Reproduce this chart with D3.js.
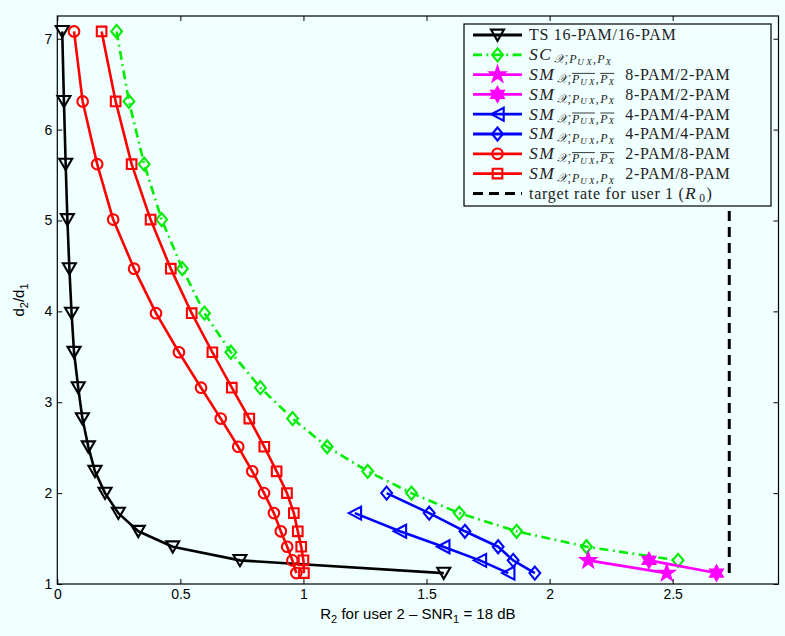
<!DOCTYPE html>
<html><head><meta charset="utf-8">
<script src="https://cdn.jsdelivr.net/npm/d3@7"></script>
<style>html,body{margin:0;padding:0;background:#f0ffff;} svg{display:block}</style>
</head><body>
<svg id="c" width="785" height="636"></svg>
<script>
// ---------- data ----------
const tsD   = [7.08, 6.31, 5.62, 5.01, 4.47, 3.98, 3.55, 3.16, 2.82, 2.51, 2.24, 2.00, 1.78, 1.58, 1.41, 1.26, 1.12];
const tsR2  = [0.020, 0.027, 0.034, 0.041, 0.049, 0.058, 0.068, 0.085, 0.102, 0.126, 0.153, 0.194, 0.248, 0.329, 0.469, 0.742, 1.570];

const scD   = [7.08, 6.31, 5.62, 5.01, 4.47, 3.98, 3.55, 3.16, 2.82, 2.51, 2.24, 2.00, 1.78, 1.58, 1.41, 1.26];
const scR2  = [0.241, 0.291, 0.353, 0.424, 0.508, 0.598, 0.705, 0.825, 0.956, 1.096, 1.261, 1.439, 1.633, 1.866, 2.150, 2.522];

const sm82oD  = [1.26, 1.12];
const sm82oR2 = [2.157, 2.476];
const sm82pD  = [1.26, 1.12];
const sm82pR2 = [2.404, 2.678];

const sm44oD  = [1.78, 1.58, 1.41, 1.26, 1.12];
const sm44oR2 = [1.209, 1.392, 1.568, 1.717, 1.832];
const sm44pD  = [2.00, 1.78, 1.58, 1.41, 1.26, 1.12];
const sm44pR2 = [1.338, 1.511, 1.656, 1.791, 1.852, 1.940];

const sm28oD  = [7.08, 6.31, 5.62, 5.01, 4.47, 3.98, 3.55, 3.16, 2.82, 2.51, 2.24, 2.00, 1.78, 1.58, 1.41, 1.26, 1.12];
const sm28oR2 = [0.068, 0.103, 0.162, 0.227, 0.312, 0.401, 0.494, 0.584, 0.664, 0.735, 0.792, 0.840, 0.880, 0.908, 0.934, 0.955, 0.971];
const sm28pD  = [7.08, 6.31, 5.62, 5.01, 4.47, 3.98, 3.55, 3.16, 2.82, 2.51, 2.24, 2.00, 1.78, 1.58, 1.41, 1.26, 1.12];
const sm28pR2 = [0.180, 0.237, 0.302, 0.379, 0.461, 0.546, 0.630, 0.709, 0.780, 0.841, 0.891, 0.933, 0.961, 0.977, 0.991, 1.000, 1.002];

const targetR0 = [2.73, 2.73];
const targetD  = [1.12, 7.08];

const xTicks = [0, 0.5, 1, 1.5, 2, 2.5];
const xTickLabels = ["0", "0.5", "1", "1.5", "2", "2.5"];
const yTicks = [1, 2, 3, 4, 5, 6, 7];
const yTickLabels = ["1", "2", "3", "4", "5", "6", "7"];

// ---------- setup ----------
const svg = d3.select("#c");
const L = 57.3, R = 778.5, T = 16, B = 584;
const x = d3.scaleLinear().domain([0, 2.93]).range([L, R]);
const y = d3.scaleLinear().domain([1, 7.25]).range([B, T]);

svg.append("rect").attr("width", 785).attr("height", 636).attr("fill", "#f0ffff");

// marker shapes
const shapes = {
  triDown: {draw(c){ c.moveTo(-6.5,-5.4); c.lineTo(6.5,-5.4); c.lineTo(0,5.8); c.closePath(); }},
  triLeft: {draw(c){ c.moveTo(-6.2,0); c.lineTo(6.2,-6.5); c.lineTo(6.2,6.5); c.closePath(); }},
  diamond: {draw(c){ c.moveTo(0,-6.5); c.lineTo(5.4,0); c.lineTo(0,6.5); c.lineTo(-5.4,0); c.closePath(); }},
  square:  {draw(c){ c.rect(-4.8,-4.8,9.6,9.6); }},
  circle:  {draw(c){ c.moveTo(5.3,0); c.arc(0,0,5.3,0,2*Math.PI); }},
  pentagram: {draw(c){
    const ro = 7.8, ri = ro*0.40;
    for (let i = 0; i < 10; i++) {
      const r = i % 2 ? ri : ro, a = -Math.PI/2 + i*Math.PI/5;
      i ? c.lineTo(r*Math.cos(a), r*Math.sin(a)) : c.moveTo(r*Math.cos(a), r*Math.sin(a));
    }
    c.closePath();
  }},
  hexagram: {draw(c){
    const ro = 7.2, ri = ro*0.577;
    for (let i = 0; i < 12; i++) {
      const r = i % 2 ? ri : ro, a = -Math.PI/2 + i*Math.PI/6;
      i ? c.lineTo(r*Math.cos(a), r*Math.sin(a)) : c.moveTo(r*Math.cos(a), r*Math.sin(a));
    }
    c.closePath();
  }}
};

const green = "#00ec00";
const series = [
  {xs: tsR2,   ys: tsD,   color: "#000000", marker: "triDown",  dash: null},
  {xs: scR2,   ys: scD,   color: green,     marker: "diamond",  dash: "9,4.5,1.8,4.5"},
  {xs: sm82oR2, ys: sm82oD, color: "#ff00ff", marker: "pentagram", dash: null, fill: true},
  {xs: sm82pR2, ys: sm82pD, color: "#ff00ff", marker: "hexagram",  dash: null, fill: true},
  {xs: sm44oR2, ys: sm44oD, color: "#0000ff", marker: "triLeft",   dash: null},
  {xs: sm44pR2, ys: sm44pD, color: "#0000ff", marker: "diamond",   dash: null},
  {xs: sm28oR2, ys: sm28oD, color: "#ff0000", marker: "circle",    dash: null},
  {xs: sm28pR2, ys: sm28pD, color: "#ff0000", marker: "square",    dash: null},
  {xs: targetR0, ys: targetD, color: "#000000", marker: null, dash: "10,6", w: 3}
];

const line = d3.line().x(d => x(d[0])).y(d => y(d[1]));
const plot = svg.append("g");
series.forEach(s => {
  const pts = s.xs.map((v, i) => [v, s.ys[i]]);
  plot.append("path").attr("d", line(pts)).attr("fill", "none")
    .attr("stroke", s.color).attr("stroke-width", s.w || 2.6)
    .attr("stroke-dasharray", s.dash).attr("stroke-linejoin", "round");
  if (s.marker) {
    const sym = d3.symbol().type(shapes[s.marker]);
    plot.selectAll(null).data(pts).enter().append("path")
      .attr("d", sym).attr("transform", d => `translate(${x(d[0])},${y(d[1])})`)
      .attr("fill", s.fill ? s.color : "none").attr("stroke", s.color).attr("stroke-width", 2.1)
      .attr("stroke-linejoin", "miter");
  }
});

// ---------- axes ----------
const axFont = "'Liberation Sans', Arial, sans-serif";
function styleAxis(g) {
  g.select(".domain").remove();
  g.selectAll("line").attr("stroke", "#000").attr("stroke-width", 1);
  g.selectAll("text").style("font-family", axFont).style("font-size", "14px").attr("fill", "#000");
}
svg.append("g").attr("transform", `translate(0,${B})`)
  .call(d3.axisBottom(x).tickValues(xTicks).tickFormat((d, i) => xTickLabels[i]).tickSize(-5).tickPadding(5)).call(styleAxis);
svg.append("g").attr("transform", `translate(0,${T})`)
  .call(d3.axisTop(x).tickValues(xTicks).tickFormat("").tickSize(-5)).call(styleAxis);
svg.append("g").attr("transform", `translate(${L},0)`)
  .call(d3.axisLeft(y).tickValues(yTicks).tickFormat((d, i) => yTickLabels[i]).tickSize(-5).tickPadding(5)).call(styleAxis);
svg.append("g").attr("transform", `translate(${R},0)`)
  .call(d3.axisRight(y).tickValues(yTicks).tickFormat("").tickSize(-5)).call(styleAxis);
svg.append("rect").attr("x", L).attr("y", T).attr("width", R - L).attr("height", B - T)
  .attr("fill", "none").attr("stroke", "#000").attr("stroke-width", 1.2);

// axis labels
const xl = svg.append("text").attr("x", (L + R) / 2).attr("y", 619).attr("text-anchor", "middle")
  .style("font-family", axFont).style("font-size", "15px");
xl.append("tspan").text("R");
xl.append("tspan").attr("dy", 4).style("font-size", "11px").text("2");
xl.append("tspan").attr("dy", -4).text(" for user 2 \u2013 SNR");
xl.append("tspan").attr("dy", 4).style("font-size", "11px").text("1");
xl.append("tspan").attr("dy", -4).text(" = 18 dB");

const yl = svg.append("text").attr("transform", `translate(24,${(T + B) / 2}) rotate(-90)`)
  .attr("text-anchor", "middle").style("font-family", axFont).style("font-size", "15px");
yl.append("tspan").text("d");
yl.append("tspan").attr("dy", 4).style("font-size", "11px").text("2");
yl.append("tspan").attr("dy", -4).text("/d");
yl.append("tspan").attr("dy", 4).style("font-size", "11px").text("1");

// ---------- legend ----------
const lx0 = 464, ly0 = 24, lx1 = 771, ly1 = 206;
const lg = svg.append("g");
lg.append("rect").attr("x", lx0).attr("y", ly0).attr("width", lx1 - lx0).attr("height", ly1 - ly0)
  .attr("fill", "#f0ffff").attr("stroke", "#000").attr("stroke-width", 1.2);

const serif = "'Liberation Serif', 'Times New Roman', serif";
const st = {
  rm:  {fs: 16, dy: 0,   it: false, ls: 0.7},
  it:  {fs: 17.5, dy: 0, it: true,  ls: 1.5},
  sub: {fs: 12, dy: 3.0, it: true,  ls: 0.3},
  subrm: {fs: 11.5, dy: 3.0, it: false, ls: 0},
  ss:  {fs: 9,  dy: 4.6, it: true,  ls: 0.3}
};
function smLabel(over, tail) {
  return [
    {t: "SM", s: "it", g: 1.5}, {t: "\u{1D4B3}", s: "sub", g: 0.5}, {t: ",", s: "subrm", g: 1.5},
    {t: "P", s: "sub", o: over ? 1 : null, g: 0.5}, {t: "U\u2009X", s: "ss", o: over ? 1 : null, g: 1}, {t: ",", s: "subrm", g: 1.5},
    {t: "P", s: "sub", o: over ? 2 : null, g: 0.5}, {t: "X", s: "ss", o: over ? 2 : null, g: 11},
    {t: tail, s: "rm"}
  ];
}
const legendRows = [
  [{t: "TS 16-PAM/16-PAM", s: "rm"}],
  [{t: "SC", s: "it", g: 1.5}, {t: "\u{1D4B3}", s: "sub", g: 0.5}, {t: ",", s: "subrm", g: 1.5}, {t: "P", s: "sub", g: 0.5}, {t: "U\u2009X", s: "ss", g: 1}, {t: ",", s: "subrm", g: 1.5}, {t: "P", s: "sub", g: 0.5}, {t: "X", s: "ss"}],
  smLabel(true, "8-PAM/2-PAM"),
  smLabel(false, "8-PAM/2-PAM"),
  smLabel(true, "4-PAM/4-PAM"),
  smLabel(false, "4-PAM/4-PAM"),
  smLabel(true, "2-PAM/8-PAM"),
  smLabel(false, "2-PAM/8-PAM"),
  [{t: "target rate for user 1 (", s: "rm", g: 0.5}, {t: "R", s: "it", g: 2}, {t: "0", s: "subrm", g: 1.5}, {t: ")", s: "rm"}]
];

series.forEach((s, i) => {
  const cy = 35 + i * 19.8;
  lg.append("line").attr("x1", 473).attr("x2", 522).attr("y1", cy).attr("y2", cy)
    .attr("stroke", s.color).attr("stroke-width", s.w || 2.8).attr("stroke-dasharray", s.dash);
  if (s.marker) {
    lg.append("path").attr("d", d3.symbol().type(shapes[s.marker])())
      .attr("transform", `translate(497.5,${cy})`).attr("fill", s.fill ? s.color : "none")
      .attr("stroke", s.color).attr("stroke-width", 2.1);
  }
  // label
  const yb = cy + (i === 8 ? 6 : 5.3);
  let xc = 529;
  const ovs = {};
  legendRows[i].forEach(sg => {
    const ss = st[sg.s];
    const t = lg.append("text").attr("x", xc).attr("y", yb + ss.dy)
      .style("font-family", serif).style("font-size", ss.fs + "px")
      .style("letter-spacing", ss.ls + "px")
      .style("font-style", ss.it ? "italic" : "normal").attr("fill", "#222").text(sg.t);
    const w = t.node().getComputedTextLength();
    if (sg.o) {
      if (!ovs[sg.o]) ovs[sg.o] = {x1: xc, x2: xc + w};
      else ovs[sg.o].x2 = xc + w;
    }
    xc += w + (sg.g || 0);
  });
  Object.values(ovs).forEach(o => {
    lg.append("line").attr("x1", o.x1).attr("x2", o.x2).attr("y1", yb - 6.5).attr("y2", yb - 6.5)
      .attr("stroke", "#222").attr("stroke-width", 0.9);
  });
});
</script>
</body></html>
